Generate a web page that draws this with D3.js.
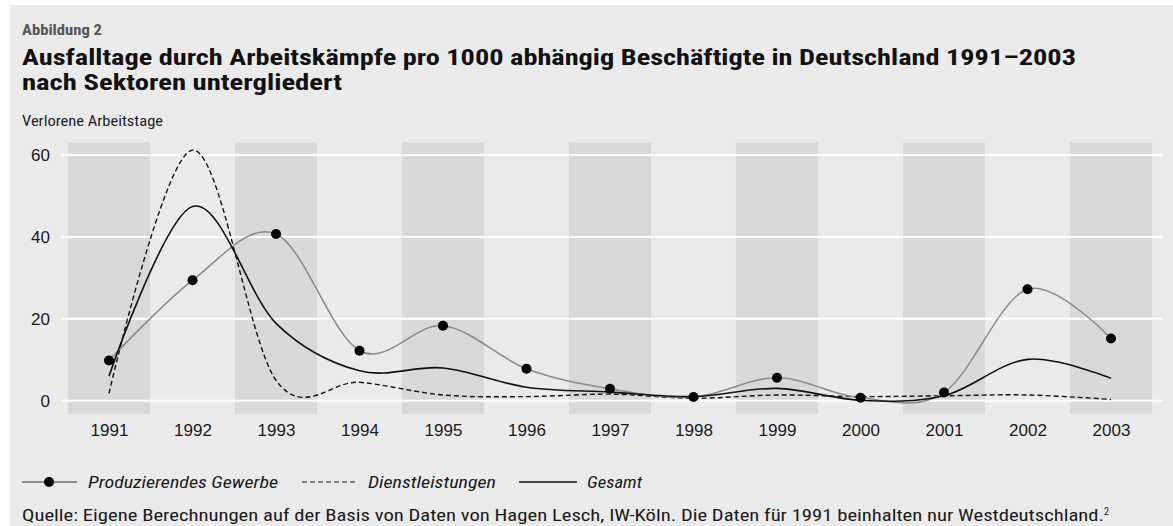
<!DOCTYPE html>
<html>
<head>
<meta charset="utf-8">
<script src="https://cdn.jsdelivr.net/npm/d3@7"></script>
<style>
  body { margin: 0; background: #fff; }
  svg { display: block; font-family: "Liberation Sans Narrow", "Roboto Condensed", "DejaVu Sans Condensed", "Arial Narrow", sans-serif; }
</style>
</head>
<body>
<div id="chart"></div>
<script>
const years = [1991, 1992, 1993, 1994, 1995, 1996, 1997, 1998, 1999, 2000, 2001, 2002, 2003];
const produzierend = [9.8, 29.4, 40.7, 12.2, 18.3, 7.8, 2.9, 0.9, 5.6, 0.7, 2.0, 27.2, 15.2];
const dienstleistungen = [1.8, 61.2, 5.0, 4.5, 1.4, 1.0, 1.6, 0.6, 1.4, 1.0, 1.2, 1.4, 0.3];
const gesamt = [6.0, 47.4, 18.9, 7.3, 8.0, 3.3, 2.1, 1.0, 3.0, 0.1, 1.2, 10.1, 5.5];
const shadedYears = [1991, 1993, 1995, 1997, 1999, 2001, 2003];
const yTicks = [0, 20, 40, 60];

const W = 1173, H = 526;

const svg = d3.select("#chart").append("svg")
  .attr("width", W)
  .attr("height", H);

// grey page background with a thin white edge top/left
svg.append("rect")
  .attr("x", 10).attr("y", 5)
  .attr("width", W - 10).attr("height", H - 5)
  .attr("fill", "#ebebeb");

// stretch/squeeze text to the width it has in the original
function fit(sel, w) {
  sel.attr("textLength", w).attr("lengthAdjust", "spacingAndGlyphs");
  return sel;
}

svg.append("text")
  .attr("x", 22).attr("y", 35)
  .style("font-size", "14px").style("font-weight", "bold")
  .attr("fill", "#555")
  .text("Abbildung 2")
  .call(fit, 80);

svg.append("text")
  .attr("x", 22).attr("y", 64.5)
  .style("font-size", "22px").style("font-weight", "bold")
  .attr("fill", "#111")
  .text("Ausfalltage durch Arbeitskämpfe pro 1000 abhängig Beschäftigte in Deutschland 1991–2003")
  .call(fit, 1054);

svg.append("text")
  .attr("x", 22).attr("y", 90)
  .style("font-size", "22px").style("font-weight", "bold")
  .attr("fill", "#111")
  .text("nach Sektoren untergliedert")
  .call(fit, 320);

svg.append("text")
  .attr("x", 22).attr("y", 126)
  .style("font-size", "15px")
  .attr("fill", "#222")
  .text("Verlorene Arbeitstage")
  .call(fit, 141);

const x = d3.scaleLinear()
  .domain([1991, 2003])
  .range([109, 1111]);
const step = x(1992) - x(1991);

const y = d3.scaleLinear()
  .domain([0, 60])
  .range([400.7, 155]);

// shaded year columns
svg.append("g")
  .selectAll("rect")
  .data(shadedYears)
  .join("rect")
    .attr("x", d => x(d) - step / 2 + 0.7)
    .attr("width", step - 1.4)
    .attr("y", y(60) - 12.5)
    .attr("height", (y(0) + 13.5) - (y(60) - 12.5))
    .attr("fill", "#d9d9d9");

// white grid lines
svg.append("g")
  .selectAll("line")
  .data(yTicks)
  .join("line")
    .attr("x1", x(1991) - 48)
    .attr("x2", x(2003) + 52)
    .attr("y1", d => y(d))
    .attr("y2", d => y(d))
    .attr("stroke", "#fff")
    .attr("stroke-width", 2);

// y axis labels
const yAxis = svg.append("g")
  .attr("transform", "translate(50,0)")
  .call(d3.axisLeft(y).tickValues(yTicks).tickSize(0).tickPadding(0));
yAxis.select(".domain").remove();
yAxis.selectAll("text")
  .style("font-size", "17px")
  .style("font-family", null)
  .attr("fill", "#1a1a1a");

// x axis labels
const xAxis = svg.append("g")
  .attr("transform", "translate(0,424)")
  .call(d3.axisBottom(x).tickValues(years).tickFormat(d3.format("d")).tickSize(0).tickPadding(0));
xAxis.select(".domain").remove();
xAxis.selectAll("text")
  .style("font-size", "17px")
  .style("font-family", null)
  .attr("fill", "#1a1a1a");

const line = d3.line()
  .x(d => x(d[0]))
  .y(d => y(d[1]))
  .curve(d3.curveCardinal);

const zip = vals => years.map((yr, i) => [yr, vals[i]]);

svg.append("path")
  .datum(zip(dienstleistungen))
  .attr("d", line)
  .attr("fill", "none")
  .attr("stroke", "#111")
  .attr("stroke-width", 1.4)
  .attr("stroke-dasharray", "5,3");

svg.append("path")
  .datum(zip(produzierend))
  .attr("d", line)
  .attr("fill", "none")
  .attr("stroke", "#8a8a8a")
  .attr("stroke-width", 1.5);

svg.append("path")
  .datum(zip(gesamt))
  .attr("d", line)
  .attr("fill", "none")
  .attr("stroke", "#111")
  .attr("stroke-width", 1.6);

svg.append("g")
  .selectAll("circle")
  .data(zip(produzierend))
  .join("circle")
    .attr("cx", d => x(d[0]))
    .attr("cy", d => y(d[1]))
    .attr("r", 5)
    .attr("fill", "#000");

// legend
const legendY = 482;
const legend = svg.append("g");

legend.append("line")
  .attr("x1", 22).attr("x2", 77)
  .attr("y1", legendY).attr("y2", legendY)
  .attr("stroke", "#333").attr("stroke-width", 1.2);
legend.append("circle")
  .attr("cx", 49).attr("cy", legendY).attr("r", 5)
  .attr("fill", "#000");

legend.append("line")
  .attr("x1", 302).attr("x2", 358)
  .attr("y1", legendY).attr("y2", legendY)
  .attr("stroke", "#111").attr("stroke-width", 1.2)
  .attr("stroke-dasharray", "5,3");

legend.append("line")
  .attr("x1", 519).attr("x2", 577)
  .attr("y1", legendY).attr("y2", legendY)
  .attr("stroke", "#111").attr("stroke-width", 1.4);

const legendLabels = [
  { text: "Produzierendes Gewerbe", x: 88, w: 190 },
  { text: "Dienstleistungen", x: 368, w: 128 },
  { text: "Gesamt", x: 587, w: 55 }
];
legendLabels.forEach(l => {
  legend.append("text")
    .attr("x", l.x).attr("y", legendY + 6)
    .style("font-size", "17px")
    .style("font-style", "italic")
    .attr("fill", "#1a1a1a")
    .text(l.text)
    .call(fit, l.w);
});

// source line
const source = svg.append("text")
  .attr("x", 22).attr("y", 521)
  .style("font-size", "16.5px")
  .attr("fill", "#1a1a1a");
source.append("tspan")
  .text("Quelle: Eigene Berechnungen auf der Basis von Daten von Hagen Lesch, IW-Köln. Die Daten für 1991 beinhalten nur Westdeutschland.")
  .call(fit, 1082);
source.append("tspan")
  .attr("dy", -6)
  .style("font-size", "10px")
  .text("2");
</script>
</body>
</html>
